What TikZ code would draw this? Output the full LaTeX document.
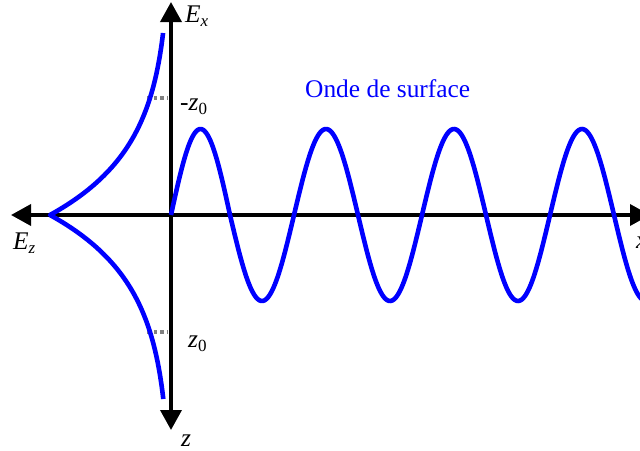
\documentclass[tikz,border=0pt]{standalone}
\usepackage{fontspec}
\setmainfont{Liberation Serif}
\usetikzlibrary{arrows.meta}
\newcommand{\lowsub}[1]{{\fontsize{17}{17}\selectfont\raisebox{-4.5pt}{#1}}}
\tikzset{
  axis/.style={line width=3.6pt, -{Triangle[length=20pt,width=21pt]}},
  wave/.style={blue, line width=4.6pt, line join=round},
  guide/.style={gray, line width=3.6pt, dash pattern=on 3.6pt off 3pt},
  lbl/.style={inner sep=0pt, anchor=base west, font=\fontsize{25.4}{29}\selectfont}
}
\begin{document}
\begin{tikzpicture}[x=1pt,y=-1pt]
\useasboundingbox (0,0) rectangle (640,450);
\coordinate (O) at (171,215);
\coordinate (top) at (171,2);
\coordinate (bot) at (171,430);
\coordinate (left) at (11,215);
\coordinate (right) at (650,215);
% dotted guides
\coordinate (g1a) at (147,98); \coordinate (g1b) at (168,98);
\coordinate (g2a) at (147,332); \coordinate (g2b) at (168,332);
\draw[guide] (g1a) -- (g1b);
\draw[guide] (g2a) -- (g2b);
% axes
\draw[axis] (O) -- (top);
\draw[axis] (O) -- (bot);
\draw[axis] (O) -- (left);
\draw[axis] (O) -- (right);
% exponential envelopes
\draw[wave] plot[domain=182:0,samples=80,smooth] ({171-121*exp(-\x/66.8)},{215-\x})
  -- plot[domain=0:184,samples=80,smooth] ({171-121*exp(-\x/66.8)},{215+\x});
% surface wave
\begin{scope}
\clip (0,0) rectangle (640,450);
\draw[wave] plot[domain=171:230,samples=40,smooth] (\x,{215-86*sin((\x-171)/59*180)})
  -- plot[domain=230:660,samples=250,smooth] (\x,{215+86*sin((\x-230)/64*180)});
\end{scope}
% labels
\node[lbl] (lEx) at (185,22) {\textit{E}\lowsub{\textit{x}}};
\node[lbl] (lmz) at (180,110) {-\textit{z}\lowsub{0}};
\node[lbl] (lz0) at (188,347) {\textit{z}\lowsub{0}};
\node[lbl] (lz) at (181,446) {\textit{z}};
\node[lbl] (lEz) at (13,249) {\textit{E}\lowsub{\textit{z}}};
\node[lbl] (lx) at (636,248) {\textit{x}};
\node[lbl, text=blue] (londe) at (305,97) {Onde de surface};
\end{tikzpicture}
\end{document}
